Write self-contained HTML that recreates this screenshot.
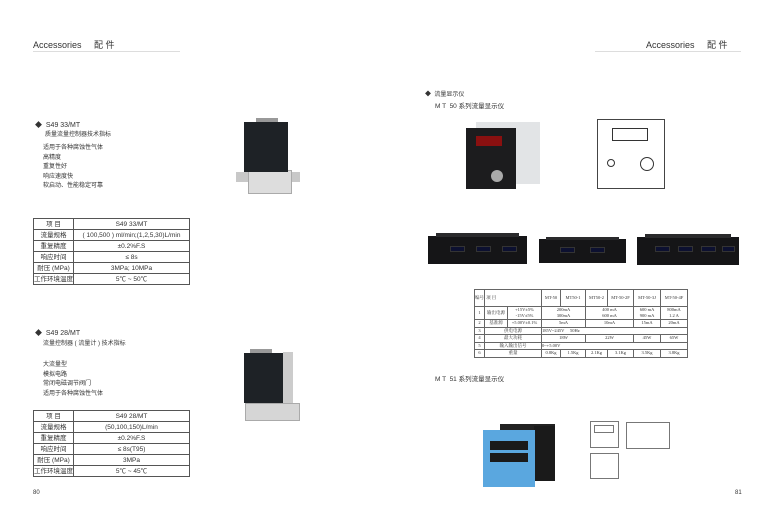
<!DOCTYPE html>
<html><head><meta charset="utf-8">
<style>
*{margin:0;padding:0;box-sizing:border-box}
body{width:773px;height:523px;background:#fff;position:relative;overflow:hidden;font-family:"Liberation Sans","Noto Sans CJK SC",sans-serif;color:#333}
.a{position:absolute;white-space:nowrap}
.t{font-size:7px;line-height:9px}
table{border-collapse:collapse;position:absolute;font-size:6.5px}
td{border:1px solid #555;text-align:center;height:11px;padding:0;line-height:9px}
.r{table-layout:fixed}
.r td{border:1px solid #666;font-family:"Liberation Serif","Noto Serif CJK SC",serif;font-size:4.5px;height:7.5px;line-height:6px;overflow:hidden;white-space:nowrap}
.b{position:absolute}
.disp{position:absolute;background:#0c1030;border:1px solid #333}
.knob{position:absolute;width:5px;height:5px;border-radius:50%;background:#ccc}
</style></head><body>
<div class="a" style="left:33px;top:38px;font-size:9px">Accessories &nbsp;&nbsp;&nbsp;&nbsp;配 件</div>
<div class="b" style="left:33px;top:51px;width:147px;height:1px;background:#ddd"></div>
<div class="a" style="left:646px;top:38px;font-size:9px">Accessories &nbsp;&nbsp;&nbsp;&nbsp;配 件</div>
<div class="b" style="left:595px;top:51px;width:146px;height:1px;background:#ddd"></div>
<div class="a" style="left:33px;top:490px;font-size:6px">80</div>
<div class="a" style="left:735px;top:490px;font-size:6px">81</div>

<div class="a t" style="left:35px;top:121px">◆&nbsp;&nbsp;S49 33/MT</div>
<div class="a t" style="left:45px;top:131px;font-size:6px">质量流量控制器技术指标</div>
<div class="a t" style="left:43px;top:144px;font-size:6px;line-height:9.5px">适用于各种腐蚀性气体<br>高精度<br>重复性好<br>响应速度快<br>软启动、性能稳定可靠</div>
<table style="left:33px;top:218px;width:157px">
<tr><td style="width:40px">项 目</td><td>S49 33/MT</td></tr>
<tr><td>流量规格</td><td>( 100,500 ) ml/min;(1,2,5,30)L/min</td></tr>
<tr><td>重复精度</td><td>±0.2%F.S</td></tr>
<tr><td>响应时间</td><td>≤ 8s</td></tr>
<tr><td>耐压 (MPa)</td><td>3MPa; 10MPa</td></tr>
<tr><td>工作环境温度</td><td>5℃ ~ 50℃</td></tr>
</table>

<div class="a t" style="left:35px;top:329px">◆&nbsp;&nbsp;S49 28/MT</div>
<div class="a t" style="left:43px;top:340px;font-size:6px">流量控制器 ( 流量计 ) 技术指标</div>
<div class="a t" style="left:43px;top:361px;font-size:6px;line-height:9.5px">大流量型<br>模拟电路<br>常闭电磁调节阀门<br>适用于各种腐蚀性气体</div>
<table style="left:33px;top:410px;width:157px">
<tr><td style="width:40px">项 目</td><td>S49 28/MT</td></tr>
<tr><td>流量规格</td><td>(50,100,150)L/min</td></tr>
<tr><td>重复精度</td><td>±0.2%F.S</td></tr>
<tr><td>响应时间</td><td>≤ 8s(T95)</td></tr>
<tr><td>耐压 (MPa)</td><td>3MPa</td></tr>
<tr><td>工作环境温度</td><td>5℃ ~ 45℃</td></tr>
</table>

<!-- device 1 -->
<div class="b" style="left:236px;top:172px;width:64px;height:10px;background:#c8c8c8"></div>
<div class="b" style="left:248px;top:170px;width:44px;height:24px;background:#ddd;border:1px solid #aaa"></div>
<div class="b" style="left:256px;top:118px;width:22px;height:6px;background:#999"></div>
<div class="b" style="left:244px;top:122px;width:44px;height:50px;background:#1e2226"></div>
<!-- device 2 -->
<div class="b" style="left:250px;top:349px;width:22px;height:6px;background:#999"></div>
<div class="b" style="left:283px;top:352px;width:10px;height:52px;background:#ccc"></div>
<div class="b" style="left:244px;top:353px;width:39px;height:50px;background:#1e2226"></div>
<div class="b" style="left:245px;top:403px;width:55px;height:18px;background:#d6d6d6;border:1px solid #aaa"></div>

<!-- right page -->
<div class="a t" style="left:425px;top:91px;font-size:6px">◆&nbsp;&nbsp;流量显示仪</div>
<div class="a t" style="left:435px;top:102px;font-size:6.5px">M T &nbsp;50 系列流量显示仪</div>
<div class="b" style="left:476px;top:122px;width:64px;height:62px;background:#e2e4e6"></div>
<div class="b" style="left:466px;top:128px;width:50px;height:61px;background:#1c1c1e"></div>
<div class="b" style="left:476px;top:136px;width:26px;height:10px;background:#8a1010"></div>
<div class="b" style="left:491px;top:170px;width:12px;height:12px;border-radius:50%;background:#aaa"></div>
<!-- diagram -->
<div class="b" style="left:597px;top:119px;width:68px;height:70px;border:1px solid #444"></div>
<div class="b" style="left:612px;top:128px;width:36px;height:13px;border:1px solid #333"></div>
<div class="b" style="left:640px;top:157px;width:14px;height:14px;border:1px solid #333;border-radius:50%"></div>
<div class="b" style="left:607px;top:159px;width:8px;height:8px;border:1px solid #333;border-radius:50%"></div>
<!-- racks -->
<div class="b" style="left:428px;top:236px;width:99px;height:28px;background:#151517"></div>
<div class="b" style="left:436px;top:233px;width:83px;height:4px;background:#2a2a2c"></div>
<div class="disp" style="left:450px;top:246px;width:15px;height:6px"></div>
<div class="disp" style="left:476px;top:246px;width:15px;height:6px"></div>
<div class="disp" style="left:502px;top:246px;width:15px;height:6px"></div>
<div class="b" style="left:539px;top:239px;width:87px;height:24px;background:#151517"></div>
<div class="b" style="left:546px;top:237px;width:73px;height:3px;background:#2a2a2c"></div>
<div class="disp" style="left:560px;top:247px;width:15px;height:6px"></div>
<div class="disp" style="left:590px;top:247px;width:15px;height:6px"></div>
<div class="b" style="left:637px;top:237px;width:102px;height:28px;background:#151517"></div>
<div class="b" style="left:645px;top:234px;width:86px;height:4px;background:#2a2a2c"></div>
<div class="disp" style="left:655px;top:246px;width:15px;height:6px"></div>
<div class="disp" style="left:678px;top:246px;width:15px;height:6px"></div>
<div class="disp" style="left:701px;top:246px;width:15px;height:6px"></div>
<div class="disp" style="left:722px;top:246px;width:13px;height:6px"></div>

<table class="r" style="left:474px;top:289px;width:213px">
<colgroup><col style="width:10px"><col style="width:23px"><col style="width:34px"><col style="width:19px"><col style="width:25px"><col style="width:22px"><col style="width:26px"><col style="width:27px"><col style="width:27px"></colgroup>
<tr style="height:17px"><td>编号</td><td colspan="2" style="text-align:left">&nbsp;项 目</td><td>MT-50</td><td>MT50-1</td><td>MT50-2</td><td>MT-50-2F</td><td>MT-50-3J</td><td>MT-50-4F</td></tr>
<tr style="height:13px"><td>1</td><td>输出电源</td><td>+15V±5%<br>-15V±5%</td><td colspan="2">200mA<br>300mA</td><td colspan="2">400 mA<br>600 mA</td><td>600 mA<br>900 mA</td><td>800mA<br>1.2 A</td></tr>
<tr><td>2</td><td>基准源</td><td>+5.00V±0.1%</td><td colspan="2">5mA</td><td colspan="2">10mA</td><td>15mA</td><td>20mA</td></tr>
<tr><td>3</td><td colspan="2">供电电源</td><td colspan="6" style="text-align:left">185V~245V &nbsp;&nbsp;&nbsp;&nbsp;50Hz</td></tr>
<tr><td>4</td><td colspan="2">最大功耗</td><td colspan="2">18W</td><td colspan="2">22W</td><td>45W</td><td>65W</td></tr>
<tr><td>5</td><td colspan="2">输入输出信号</td><td colspan="6" style="text-align:left">0~+5.00V</td></tr>
<tr><td>6</td><td colspan="2">重量</td><td>0.8Kg</td><td>1.5Kg</td><td>2.1Kg</td><td>3.1Kg</td><td>3.5Kg</td><td>3.8Kg</td></tr>
</table>

<div class="a t" style="left:435px;top:375px;font-size:6.5px">M T &nbsp;51 系列流量显示仪</div>
<div class="b" style="left:500px;top:424px;width:55px;height:8px;background:#222"></div>
<div class="b" style="left:534px;top:426px;width:21px;height:55px;background:#1a1a1a"></div>
<div class="b" style="left:483px;top:430px;width:52px;height:57px;background:#5aa7df"></div>
<div class="b" style="left:490px;top:441px;width:38px;height:9px;background:#1a1a1a"></div>
<div class="b" style="left:490px;top:453px;width:38px;height:9px;background:#1a1a1a"></div>
<div class="b" style="left:590px;top:421px;width:29px;height:27px;border:1px solid #777"></div>
<div class="b" style="left:594px;top:425px;width:20px;height:8px;border:1px solid #777"></div>
<div class="b" style="left:590px;top:453px;width:29px;height:26px;border:1px solid #777"></div>
<div class="b" style="left:626px;top:422px;width:44px;height:27px;border:1px solid #777"></div>
</body></html>
